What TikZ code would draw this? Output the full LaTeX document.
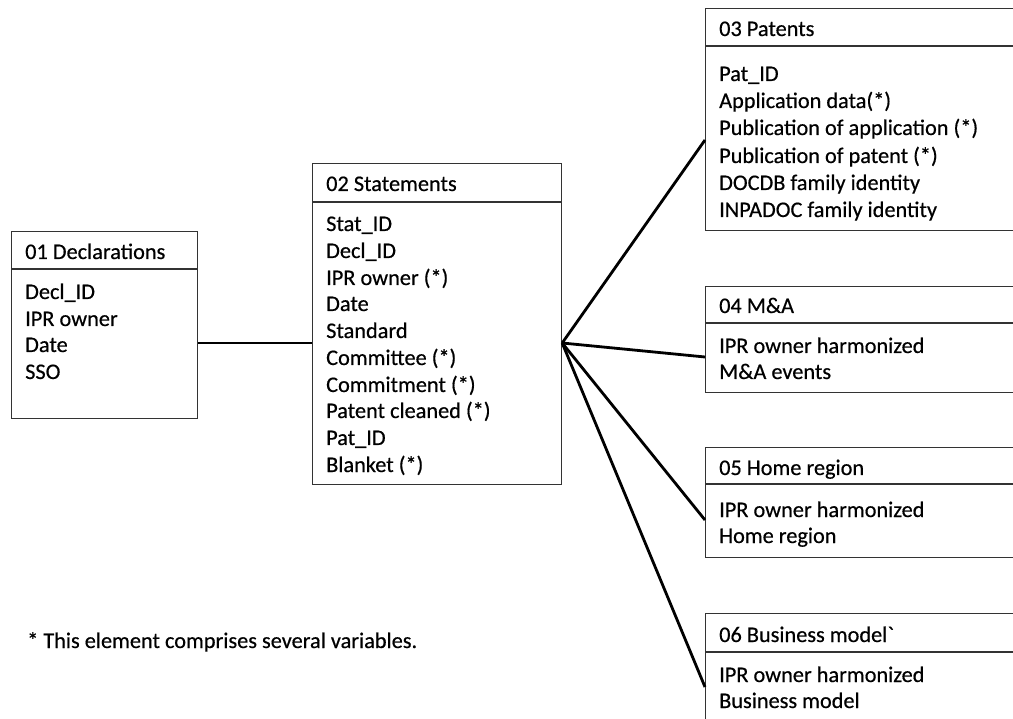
\documentclass[tikz,border=0pt]{standalone}
\usepackage{fontspec}
\setmainfont{Carlito}[FakeBold=0.5,Ligatures=TeXOff]
\tikzset{
  tbox/.style={draw=black!80, line width=1.2pt, anchor=north west, inner sep=0pt},
  sep/.style={draw=black!80, line width=1.2pt},
  conn/.style={draw=black, line width=2.8pt},
  txt/.style={anchor=base west, inner sep=0pt, font=\fontsize{22.3}{27}\selectfont}
}
\begin{document}
\begin{tikzpicture}[x=1pt,y=-1pt]
\useasboundingbox (0,0) rectangle (1013,719);
\clip (0,0) rectangle (1013,719);
% boxes
\node[tbox, minimum width=186pt, minimum height=187pt] (b1) at (11,231) {};
\node[tbox, minimum width=249pt, minimum height=321pt] (b2) at (312,163) {};
\node[tbox, minimum width=320pt, minimum height=222pt] (b3) at (705,8) {};
\node[tbox, minimum width=320pt, minimum height=106pt] (b4) at (705,286) {};
\node[tbox, minimum width=320pt, minimum height=110pt] (b5) at (705,447) {};
\node[tbox, minimum width=320pt, minimum height=140pt] (b6) at (705,613) {};
% header separators
\draw[sep] (b1.west |- 0,269) -- (b1.east |- 0,269);
\draw[sep] (b2.west |- 0,202) -- (b2.east |- 0,202);
\draw[sep] (b3.west |- 0,46) -- (b3.east |- 0,46);
\draw[sep] (b4.west |- 0,323) -- (b4.east |- 0,323);
\draw[sep] (b5.west |- 0,484) -- (b5.east |- 0,484);
\draw[sep] (b6.west |- 0,652) -- (b6.east |- 0,652);
% texts box 1
\node[txt] (t1h) at (25,259) {01 Declarations};
\node[txt] (t1a) at (25,299) {Decl\_ID};
\node[txt] (t1b) at (25,326) {IPR owner};
\node[txt] (t1c) at (25,352) {Date};
\node[txt] (t1d) at (25,379) {SSO};
% texts box 2
\node[txt] (t2h) at (326,191) {02 Statements};
\node[txt] (t2a) at (326,231) {Stat\_ID};
\node[txt] (t2b) at (326,258) {Decl\_ID};
\node[txt] (t2c) at (326,285) {IPR owner (*)};
\node[txt] (t2d) at (326,311) {Date};
\node[txt] (t2e) at (326,338) {Standard};
\node[txt] (t2f) at (326,365) {Committee (*)};
\node[txt] (t2g) at (326,392) {Commitment (*)};
\node[txt] (t2h2) at (326,418) {Patent cleaned (*)};
\node[txt] (t2i) at (326,445) {Pat\_ID};
\node[txt] (t2j) at (326,472) {Blanket (*)};
% texts box 3
\node[txt] (t3h) at (719,36) {03 Patents};
\node[txt] (t3a) at (719,81) {Pat\_ID};
\node[txt] (t3b) at (719,108) {Application data(*)};
\node[txt] (t3c) at (719,135) {Publication of application (*)};
\node[txt] (t3d) at (719,163) {Publication of patent (*)};
\node[txt] (t3e) at (719,190) {DOCDB family identity};
\node[txt] (t3f) at (719,217) {INPADOC family identity};
% texts box 4
\node[txt] (t4h) at (719,313) {04 M\&A};
\node[txt] (t4a) at (719,353) {IPR owner harmonized};
\node[txt] (t4b) at (719,379) {M\&A events};
% texts box 5
\node[txt] (t5h) at (719,475) {05 Home region};
\node[txt] (t5a) at (719,517) {IPR owner harmonized};
\node[txt] (t5b) at (719,543) {Home region};
% texts box 6
\node[txt] (t6h) at (719,642) {06 Business model`};
\node[txt] (t6a) at (719,682) {IPR owner harmonized};
\node[txt] (t6b) at (719,708) {Business model};
% footnote
\node[txt] (fn) at (27,648) {* This element comprises several variables.};
% connectors
\coordinate (hub) at (b2.east |- 0,343);
\draw[conn] (b1.east |- hub) -- (b2.west |- hub);
\draw[conn] (hub) -- (b3.west |- 0,140);
\draw[conn] (hub) -- (b4.west |- 0,357);
\draw[conn] (hub) -- (b5.west |- 0,520);
\draw[conn] (hub) -- (b6.west |- 0,687);
\end{tikzpicture}
\end{document}
